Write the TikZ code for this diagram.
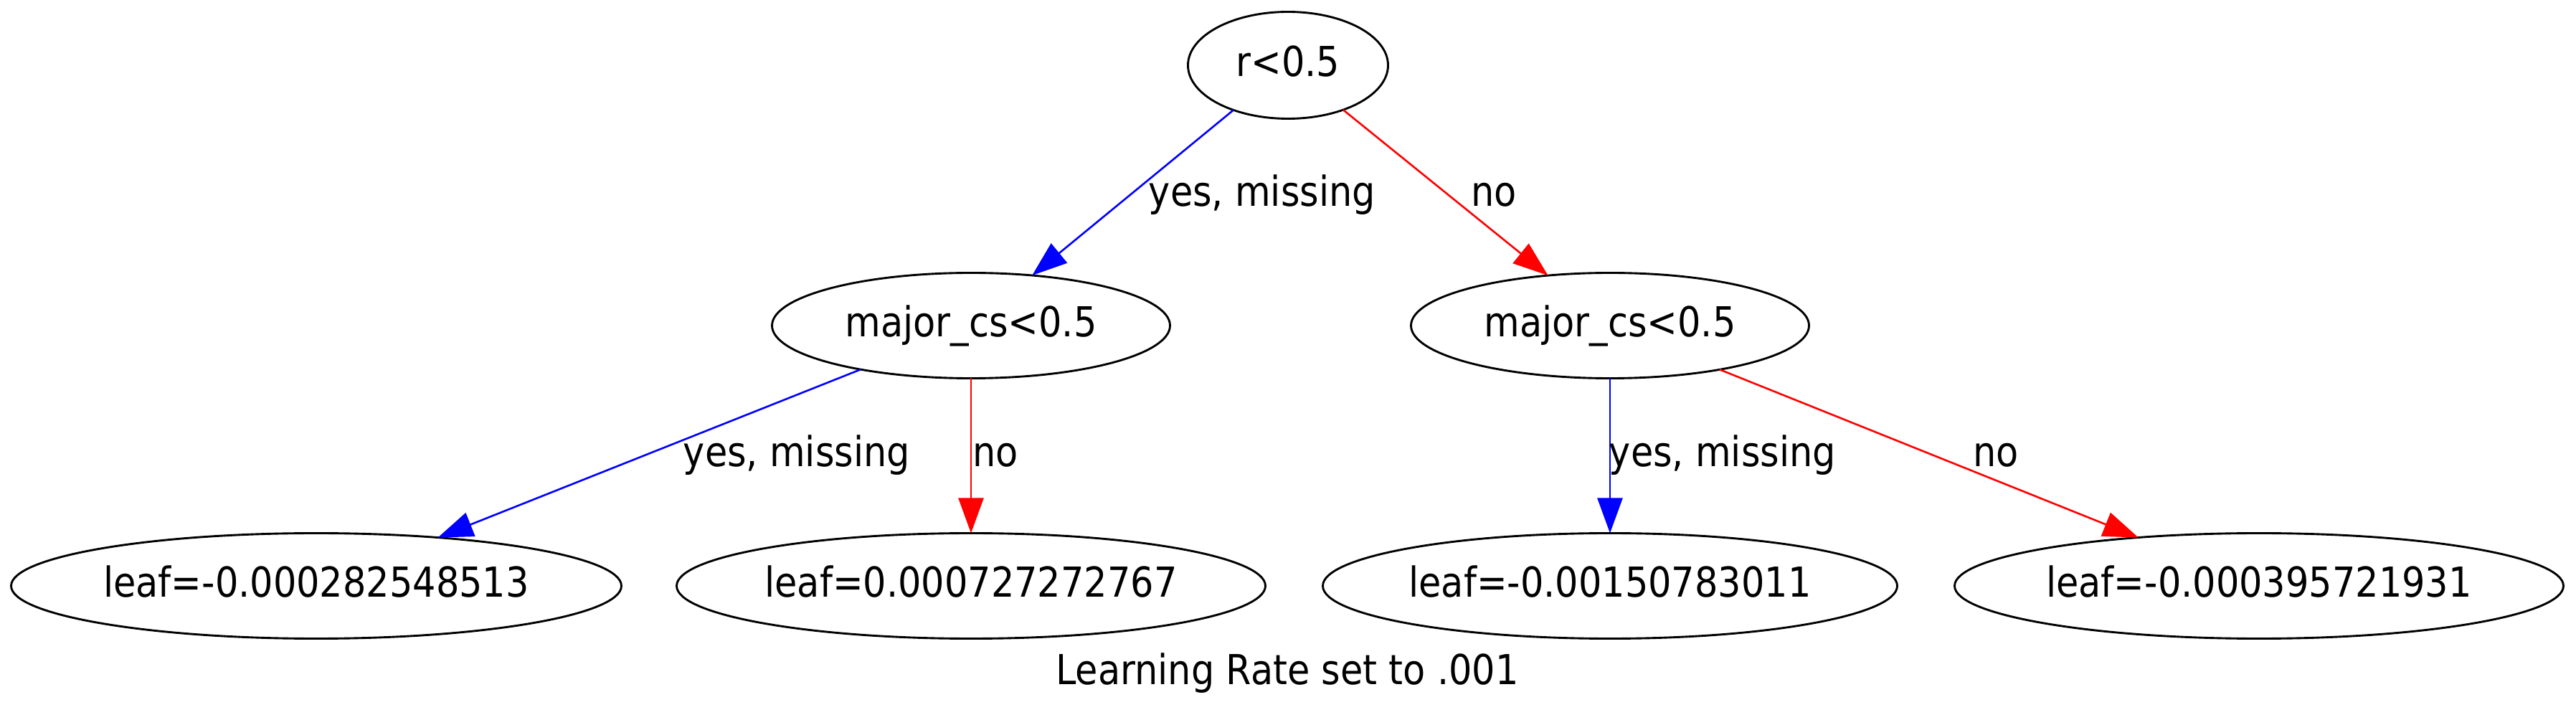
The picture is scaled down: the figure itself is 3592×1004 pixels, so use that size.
\documentclass[tikz,border=0pt]{standalone}
\usepackage{fontspec}
\setmainfont{DejaVu Sans}[FakeStretch=0.885]
\usetikzlibrary{shapes.geometric,arrows.meta}
\begin{document}
\begin{tikzpicture}[x=0.25pt,y=-0.25pt,
  every node/.style={font=\fontsize{14.4pt}{17pt}\selectfont, inner sep=0pt, outer sep=0pt},
  tnode/.style={ellipse, draw=black, line width=0.72pt, text height=11.5pt, text depth=3.5pt, minimum height=36.75pt},
  yesedge/.style={draw=blue, line width=0.65pt, -{Triangle[length=12.25pt,width=8.75pt]}},
  noedge/.style={draw=red, line width=0.65pt, -{Triangle[length=12.25pt,width=8.75pt]}},
  elabel/.style={anchor=base}]
\fill[white] (0,0) rectangle (3592,1004);
\useasboundingbox (0,0) rectangle (3592,1004);
% tree nodes
\node[tnode, minimum width=69.75pt, minimum height=37.25pt] (root) at (1796,91) {r<0.5};
\node[tnode, minimum width=138.75pt] (ml) at (1354,454) {major\_cs<0.5};
\node[tnode, minimum width=138.75pt] (mr) at (2245,454) {major\_cs<0.5};
\node[tnode, minimum width=212.75pt] (l1) at (441,817) {leaf=-0.000282548513};
\node[tnode, minimum width=205.25pt] (l2) at (1354,817) {leaf=0.000727272767};
\node[tnode, minimum width=200.25pt] (l3) at (2245,817) {leaf=-0.00150783011};
\node[tnode, minimum width=212.25pt] (l4) at (3150,817) {leaf=-0.000395721931};
% edges
\draw[yesedge] (root) -- (ml);
\draw[noedge] (root) -- (mr);
\draw[yesedge] (ml) -- (l1);
\draw[noedge] (ml) -- (l2);
\draw[yesedge] (mr) -- (l3);
\draw[noedge] (mr) -- (l4);
% edge labels
\node[elabel] (lab1) at (1760,288) {yes, missing};
\node[elabel] (lab2) at (2083,288) {no};
\node[elabel] (lab3) at (1111,651) {yes, missing};
\node[elabel] (lab4) at (1388,651) {no};
\node[elabel] (lab5) at (2402,651) {yes, missing};
\node[elabel] (lab6) at (2783,651) {no};
% caption
\node[elabel] (caption) at (1795,955) {Learning Rate set to .001};
\end{tikzpicture}
\end{document}
